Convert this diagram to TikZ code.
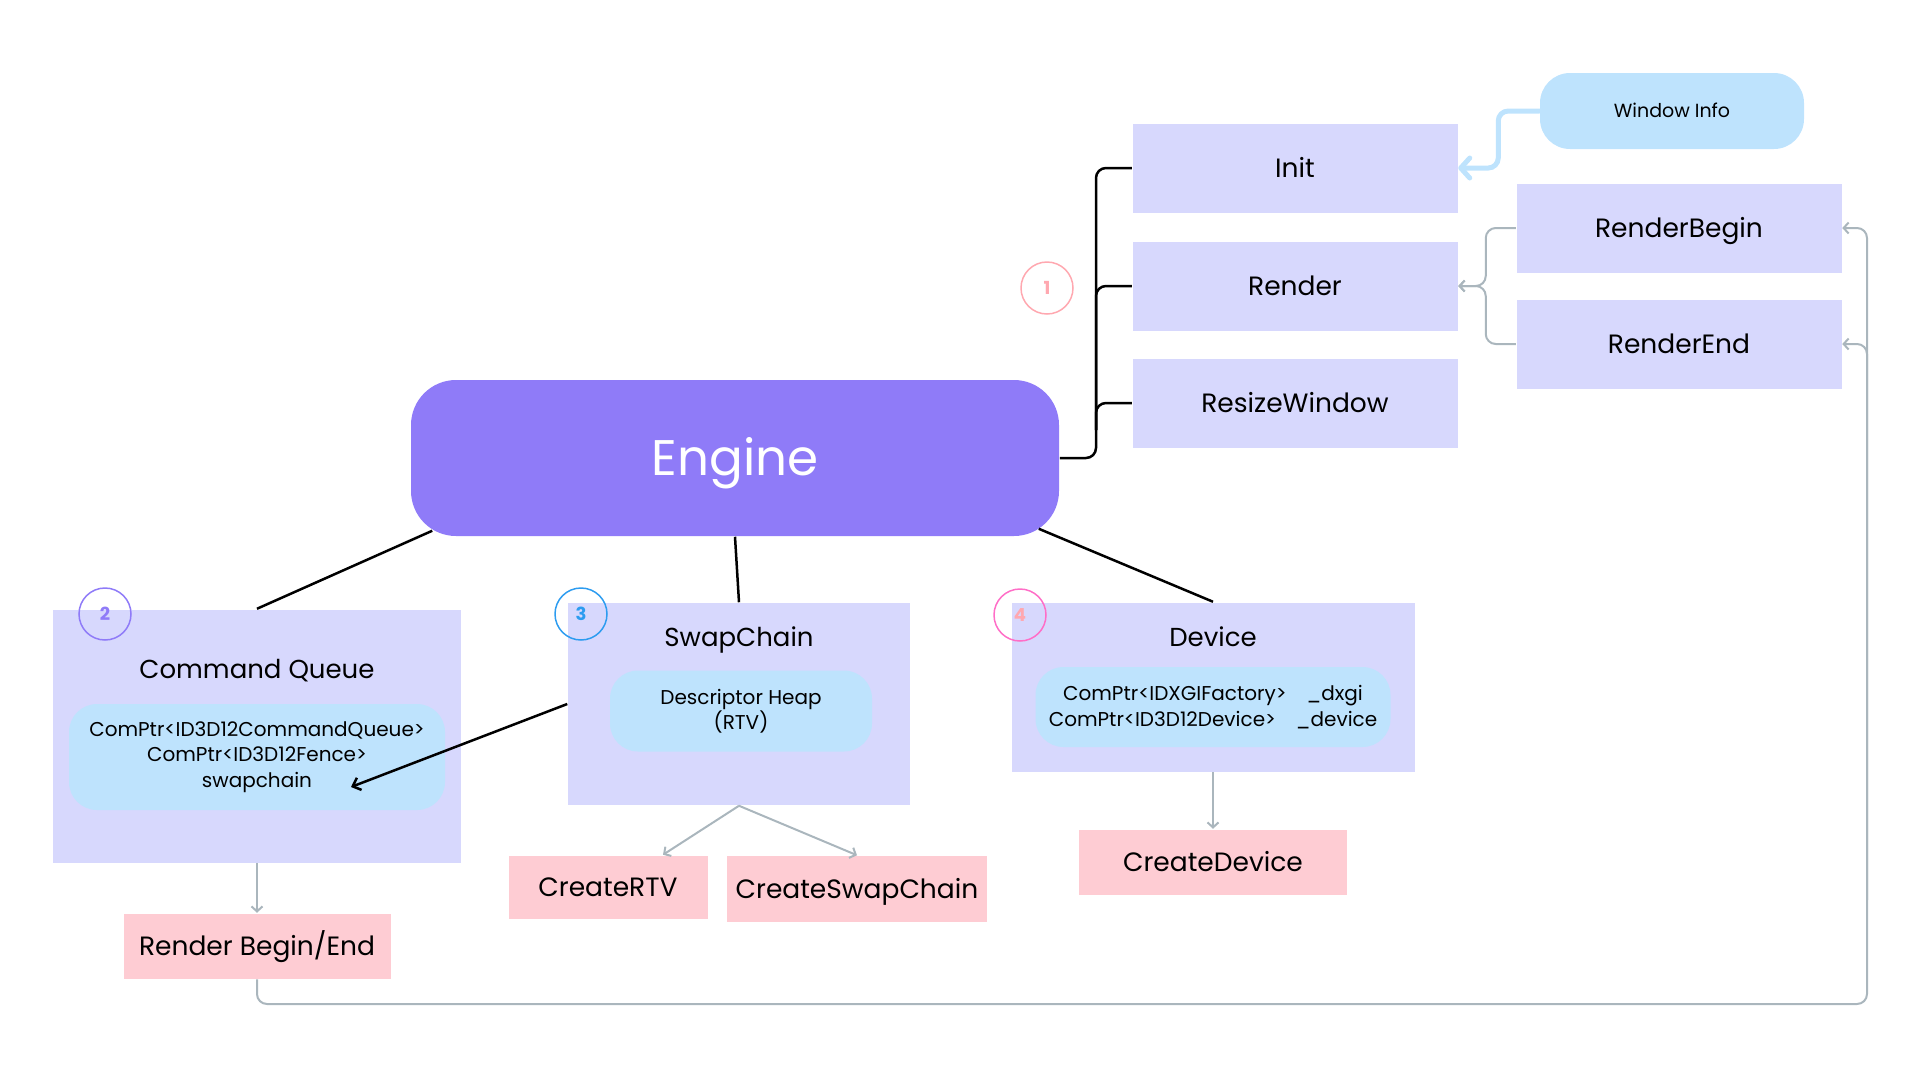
\documentclass[tikz,border=0pt]{standalone}
\usepackage{fontspec}
\setmainfont{Poppins}
\usetikzlibrary{arrows.meta,positioning,calc}

\definecolor{lavender}{RGB}{215,216,253}
\definecolor{enginepurple}{RGB}{143,123,248}
\definecolor{infoblue}{RGB}{190,227,253}
\definecolor{createpink}{RGB}{254,204,211}
\definecolor{linkgray}{RGB}{170,182,189}
\definecolor{numpink}{RGB}{255,168,176}
\definecolor{numblue}{RGB}{45,156,240}
\definecolor{nummagenta}{RGB}{255,110,199}

\tikzset{every picture/.style={line width=1.5pt}}
\tikzset{
  captext/.style={text height=#1, text depth=0pt},
  funcbox/.style={fill=lavender, inner sep=0pt, minimum width=325, minimum height=89,
    captext=18.5pt, font=\fontsize{26.5}{32}\selectfont},
  enginebox/.style={fill=enginepurple, rounded corners=45, inner sep=0pt, minimum width=648,
    minimum height=156, text=white, captext=35pt, font=\fontsize{50}{56}\selectfont},
  infobox/.style={fill=infoblue, rounded corners=30, inner sep=0pt, minimum width=264,
    minimum height=76, captext=13.3pt, font=\fontsize{19}{22}\selectfont},
  groupbox/.style={fill=lavender, inner sep=0pt},
  titletext/.style={inner sep=0pt, captext=18.2pt, font=\fontsize{26}{32}\selectfont},
  innerbox/.style={fill=infoblue, rounded corners=28, inner sep=0pt, align=center,
    font=\fontsize{20}{25.5}\selectfont},
  createbox/.style={fill=createpink, inner sep=0pt, captext=18.5pt, font=\fontsize{26.5}{32}\selectfont},
  numcircle/.style={circle, draw=#1, line width=1.5pt, minimum size=52, inner sep=0pt,
    font=\fontsize{18}{20}\selectfont\bfseries},
  treeline/.style={draw=black, line width=2.5pt, rounded corners=10},
  blackarrow/.style={draw=black, line width=2.5pt, -{Straight Barb[length=7pt,width=13pt]}},
  infolink/.style={draw=infoblue, line width=5pt, line cap=round, rounded corners=10,
    -{Straight Barb[round,length=9pt,width=20pt]}},
  grayarrow/.style={draw=linkgray, line width=2pt, rounded corners=10,
    -{Straight Barb[length=5pt,width=11pt]}},
}

\begin{document}
\begin{tikzpicture}[x=1pt,y=-1pt]
\path[use as bounding box] (0,0) rectangle (1920,1080);

%Shape: Rounded Rect [Engine]
\node[enginebox] (engine) at (735,458) {Engine};

%Shape: Rectangle [engine functions]
\node[funcbox] (init) at (1295,168) {Init};
\node[funcbox] (render) at (1295,286) {Render};
\node[funcbox] (resize) at (1295,403) {ResizeWindow};
\node[funcbox] (rbegin) at (1679,228) {RenderBegin};
\node[funcbox] (rend) at (1679,344) {RenderEnd};
%Shape: Rounded Rect [Window Info]
\node[infobox] (winfo) at (1672,111) {Window Info};

%Shape: Rectangle [Command Queue]
\node[groupbox, minimum width=408, minimum height=253] (cq) at (257,736) {};
% Text Node
\node[titletext] (cqtitle) at (257,669) {Command Queue};
\node[innerbox, minimum width=376, minimum height=106] (cqinner) at (257,757)
  {ComPtr<ID3D12CommandQueue>\\ComPtr<ID3D12Fence>\\swapchain};

%Shape: Rectangle [SwapChain]
\node[groupbox, minimum width=342, minimum height=202] (swap) at (739,704) {};
% Text Node
\node[titletext] (swaptitle) at (739,637) {SwapChain};
\node[innerbox, minimum width=262, minimum height=81] (swapinner) at (741,711)
  {Descriptor Heap\\(RTV)};

%Shape: Rectangle [Device]
\node[groupbox, minimum width=403, minimum height=169] (device) at (1213,687) {};
% Text Node
\node[titletext] (devtitle) at (1213,637) {Device};
\node[innerbox, minimum width=355, minimum height=80] (devinner) at (1213,707)
  {ComPtr<IDXGIFactory>\hspace{20pt}\_dxgi\\ComPtr<ID3D12Device>\hspace{20pt}\_device};

%Shape: Rectangle [create functions]
\node[createbox, minimum width=267, minimum height=65] (rbe) at (257,946) {Render Begin/End};
\node[createbox, minimum width=199, minimum height=63] (crtv) at (608,887) {CreateRTV};
\node[createbox, minimum width=260, minimum height=66] (csc) at (857,889) {CreateSwapChain};
\node[createbox, minimum width=268, minimum height=65] (cdev) at (1213,862) {CreateDevice};

%Shape: Circle [step numbers]
\node[numcircle=numpink, text=numpink] (num1) at (1047,288) {1};
\node[numcircle=enginepurple, text=enginepurple] (num2) at (105,614) {2};
\node[numcircle=numblue, text=numblue] (num3) at (581,614) {3};
\node[numcircle=nummagenta, text=numpink] (num4) at (1020,615) {4};

%Straight Lines [engine to members]
\draw[treeline] ($(engine.south west)+(22,-6)$) -- (cq.north);
\draw[treeline] (engine.south) -- (swap.north);
\draw[treeline] ($(engine.south east)+(-21,-8)$) -- (device.north);

%Straight Lines [engine to functions]
\coordinate (bus) at (1096,458);
\coordinate (bustop) at (1096,430);
\draw[treeline] (engine.east) -- (bus) |- (init.west);
\draw[treeline] (bustop) |- (render.west);
\draw[treeline] (bustop) |- (resize.west);

%Straight Lines [window info]
\draw[infolink] (winfo.west) -- ++(-41,0) |- (init.east);

%Straight Lines [render calls]
\draw[grayarrow] (rbegin.west) -- ++(-30,0) |- (render.east);
\draw[grayarrow] (rend.west) -- ++(-30,0) |- (render.east);

%Straight Lines [swapchain into command queue]
\coordinate (cqtip) at (351,787);
\draw[blackarrow] (swap.west) -- (cqtip);

%Straight Lines [creation]
\draw[grayarrow] (cq.south) -- (rbe.north);
\draw[grayarrow] (swap.south) -- ($(crtv.north)+(55,0)$);
\draw[grayarrow] (swap.south) -- (csc.north);
\draw[grayarrow] (device.south) -- (cdev.north);

%Straight Lines [loop back]
\coordinate (loop) at (1867,1004);
\coordinate (loopup) at (1867,900);
\draw[grayarrow] (rbe.south) |- (loop) |- (rbegin.east);
\draw[grayarrow] (loopup) |- (rend.east);

\end{tikzpicture}
\end{document}
